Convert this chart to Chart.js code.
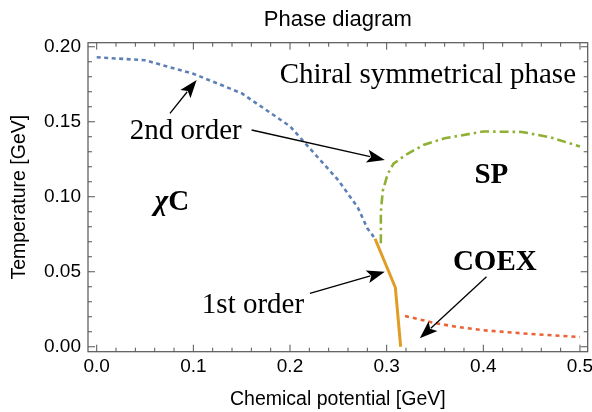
<!DOCTYPE html>
<html>
<head>
<meta charset="utf-8">
<script src="https://cdn.jsdelivr.net/npm/chart.js@4.4.0/dist/chart.umd.min.js"></script>
<style>
  html, body { margin: 0; padding: 0; background: #fff; }
  #wrap { width: 592px; height: 412px; }
</style>
</head>
<body>
<div id="wrap"><canvas id="phaseChart"></canvas></div>
<script>
// 2nd order line (blue, dotted)
const secondMu = [0, 0.05, 0.1, 0.15, 0.2, 0.25, 0.27, 0.28, 0.288];
const secondT  = [0.193, 0.191, 0.182, 0.169, 0.147, 0.111, 0.093, 0.079, 0.072];
// 1st order line (orange, solid)
const firstMu = [0.288, 0.309, 0.3145];
const firstT  = [0.072, 0.0395, 0.0];
// SP boundary (green, dash-dot)
const spMu = [0.294, 0.294, 0.296, 0.301, 0.307, 0.32, 0.338, 0.36, 0.4, 0.44, 0.47, 0.5];
const spT  = [0.069, 0.09, 0.104, 0.115, 0.122, 0.128, 0.1345, 0.139, 0.1435, 0.1432, 0.1395, 0.1335];
// COEX boundary (red, dashed)
const coexMu = [0.319, 0.35, 0.372, 0.4, 0.441, 0.5];
const coexT  = [0.0205, 0.0158, 0.0133, 0.011, 0.0089, 0.0065];

const xTicks = [0, 0.1, 0.2, 0.3, 0.4, 0.5];
const yTicks = [0, 0.05, 0.1, 0.15, 0.2];

const sans = "'Liberation Sans', Arial, sans-serif";
const serif = "'Liberation Serif', 'Times New Roman', serif";

function toPoints(xs, ys) {
    return xs.map((x, i) => ({ x: x, y: ys[i] }));
}

// frame with inward ticks on all four sides, Mathematica style
const frameTicks = {
    id: 'frameTicks',
    afterDraw(chart) {
        const { ctx, chartArea: a, scales } = chart;
        const xs = scales.x, ys = scales.y;
        ctx.save();
        ctx.strokeStyle = '#555';
        ctx.lineWidth = 1.2;
        ctx.strokeRect(a.left, a.top, a.right - a.left, a.bottom - a.top);
        ctx.lineWidth = 1;
        ctx.beginPath();
        for (let i = 0; i <= 25; i++) {
            const v = i * 0.02;
            const len = (i % 5 === 0) ? 7 : 4;
            const px = xs.getPixelForValue(v);
            ctx.moveTo(px, a.bottom); ctx.lineTo(px, a.bottom - len);
            ctx.moveTo(px, a.top); ctx.lineTo(px, a.top + len);
        }
        for (let i = 0; i <= 20; i++) {
            const v = i * 0.01;
            const len = (i % 5 === 0) ? 7 : 4;
            const py = ys.getPixelForValue(v);
            ctx.moveTo(a.left, py); ctx.lineTo(a.left + len, py);
            ctx.moveTo(a.right, py); ctx.lineTo(a.right - len, py);
        }
        ctx.stroke();

        // title, centred over the plot area
        ctx.fillStyle = '#000';
        ctx.font = '22px ' + sans;
        ctx.textAlign = 'center';
        ctx.textBaseline = 'alphabetic';
        ctx.fillText('Phase diagram', (a.left + a.right) / 2, 25.7);
        ctx.restore();
    }
};

// labels and arrows, placed in data coordinates
const labels = [
    { text: 'Chiral symmetrical phase', x: 0.3426, y: 0.1756, bold: false },
    { text: '2nd order', x: 0.0922, y: 0.1383, bold: false },
    { text: '1st order', x: 0.1617, y: 0.0227, bold: false },
    { text: 'SP', x: 0.4083, y: 0.1089, bold: true },
    { text: 'COEX', x: 0.4119, y: 0.0511, bold: true }
];
const arrows = [
    [0.0758, 0.1556, 0.1034, 0.1778],
    [0.1603, 0.1445, 0.2981, 0.1245],
    [0.2206, 0.0356, 0.2981, 0.0500],
    [0.4033, 0.0467, 0.3343, 0.0056]
];

const annotations = {
    id: 'annotations',
    afterDatasetsDraw(chart) {
        const { ctx, scales } = chart;
        const X = v => scales.x.getPixelForValue(v);
        const Y = v => scales.y.getPixelForValue(v);
        ctx.save();
        ctx.fillStyle = '#000';
        ctx.textAlign = 'center';
        ctx.textBaseline = 'alphabetic';
        labels.forEach(l => {
            ctx.font = (l.bold ? 'bold ' : '') + '29px ' + serif;
            ctx.fillText(l.text, X(l.x), Y(l.y));
        });
        // chi C
        const cx = X(0.0779), cy = Y(0.0911);
        ctx.font = 'italic bold 29px ' + serif;
        const w1 = ctx.measureText('\u03C7').width;
        ctx.font = 'bold 29px ' + serif;
        const w2 = ctx.measureText('C').width;
        ctx.textAlign = 'left';
        ctx.font = 'italic bold 29px ' + serif;
        ctx.fillText('\u03C7', cx - (w1 + w2) / 2, cy);
        ctx.font = 'bold 29px ' + serif;
        ctx.fillText('C', cx - (w1 + w2) / 2 + w1, cy);

        ctx.strokeStyle = '#000';
        ctx.lineWidth = 1.3;
        arrows.forEach(a => {
            const x0 = X(a[0]), y0 = Y(a[1]), x1 = X(a[2]), y1 = Y(a[3]);
            const ang = Math.atan2(y1 - y0, x1 - x0);
            const hl = 18, hw = 6.5;
            const bx = x1 - hl * Math.cos(ang), by = y1 - hl * Math.sin(ang);
            ctx.beginPath();
            ctx.moveTo(x0, y0);
            ctx.lineTo(bx + 3 * Math.cos(ang), by + 3 * Math.sin(ang));
            ctx.stroke();
            ctx.beginPath();
            ctx.moveTo(x1, y1);
            ctx.lineTo(bx - hw * Math.sin(ang), by + hw * Math.cos(ang));
            ctx.lineTo(bx + 4 * Math.cos(ang), by + 4 * Math.sin(ang));
            ctx.lineTo(bx + hw * Math.sin(ang), by - hw * Math.cos(ang));
            ctx.closePath();
            ctx.fill();
        });
        ctx.restore();
    }
};

new Chart(document.getElementById('phaseChart').getContext('2d'), {
    type: 'scatter',
    data: {
        datasets: [
            {
                label: '2nd order',
                data: toPoints(secondMu, secondT),
                showLine: true, borderColor: '#5E81B5', borderWidth: 2.6,
                borderDash: [4, 3.5], pointRadius: 0
            },
            {
                label: 'SP',
                data: toPoints(spMu, spT),
                showLine: true, borderColor: '#8FB032', borderWidth: 2.6,
                borderDash: [9, 4, 2.5, 4], pointRadius: 0
            },
            {
                label: 'COEX',
                data: toPoints(coexMu, coexT),
                showLine: true, borderColor: '#EB6235', borderWidth: 2.6,
                borderDash: [4, 4], pointRadius: 0
            },
            {
                label: '1st order',
                data: toPoints(firstMu, firstT),
                showLine: true, borderColor: '#E19C24', borderWidth: 3,
                pointRadius: 0
            }
        ]
    },
    options: {
        responsive: true,
        maintainAspectRatio: false,
        animation: false,
        layout: { padding: { top: 42.7, right: 4.3, left: 0, bottom: 0 } },
        plugins: {
            legend: { display: false },
            tooltip: { enabled: false }
        },
        scales: {
            x: {
                type: 'linear',
                min: -0.009,
                max: 0.508,
                afterBuildTicks: s => { s.ticks = xTicks.map(v => ({ value: v })); },
                afterFit: s => { s.height = 60.3; s.paddingLeft = 0; s.paddingRight = 0; },
                grid: { display: false, drawTicks: false },
                border: { display: false },
                ticks: {
                    padding: 4, color: '#000', maxRotation: 0,
                    font: { family: sans, size: 19 },
                    callback: v => v.toFixed(1)
                },
                title: {
                    display: true, text: 'Chemical potential [GeV]', color: '#000',
                    font: { family: sans, size: 19.5 }, padding: { top: 0, bottom: 1 }
                }
            },
            y: {
                type: 'linear',
                min: -0.0033,
                max: 0.2027,
                afterBuildTicks: s => { s.ticks = yTicks.map(v => ({ value: v })); },
                afterFit: s => { s.width = 88; s.paddingTop = 0; s.paddingBottom = 0; },
                grid: { display: false, drawTicks: false },
                border: { display: false },
                ticks: {
                    padding: 7, color: '#000',
                    font: { family: sans, size: 19 },
                    callback: v => v.toFixed(2)
                },
                title: {
                    display: true, text: 'Temperature [GeV]', color: '#000',
                    font: { family: sans, size: 19.5 }, padding: { top: 8, bottom: 0 }
                }
            }
        }
    },
    plugins: [frameTicks, annotations]
});
</script>
</body>
</html>
